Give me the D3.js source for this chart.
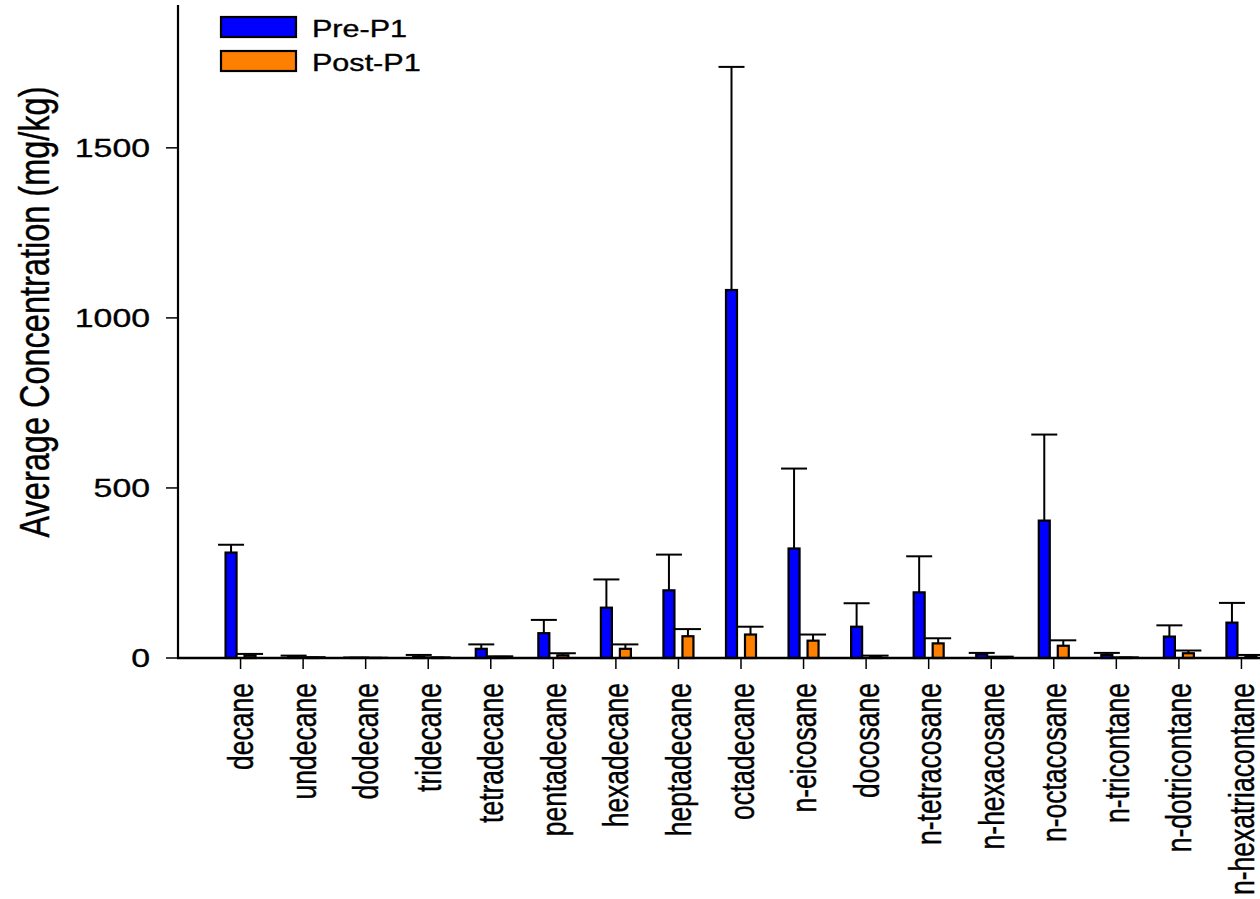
<!DOCTYPE html>
<html>
<head>
<meta charset="utf-8">
<script src="https://cdn.jsdelivr.net/npm/d3@7"></script>
<style>
  html, body { margin: 0; padding: 0; background: #fff; overflow: hidden; }
  svg { display: block; }
  text { font-family: "Liberation Sans", Arial, Helvetica, sans-serif; fill: #000; stroke: #000; stroke-width: 0.35px; }
</style>
</head>
<body>
<script>
// ---- Data ----
const categories = ["decane", "undecane", "dodecane", "tridecane", "tetradecane", "pentadecane",
  "hexadecane", "heptadecane", "octadecane", "n-eicosane", "docosane", "n-tetracosane",
  "n-hexacosane", "n-octacosane", "n-tricontane", "n-dotricontane", "n-hexatriacontane"];
const seriesNames = ["Pre-P1", "Post-P1"];
const preValues  = [310, 4, 0.5, 3, 27, 73, 148, 199, 1082, 322, 92, 193, 11, 404, 9, 63, 104];
const preErrors  = [23, 3, 1, 6, 13, 39, 83, 105, 656, 235, 69, 106, 4, 253, 6, 33, 58];
const postValues = [7, 1, 0.3, 1, 3, 8, 27, 64, 69, 51, 3, 43, 2, 36, 1, 14, 5];
const postErrors = [5, 1.5, 0.5, 1, 2, 6, 13, 21, 23, 18, 4, 15, 2, 16, 1, 8, 4];
const yTicks = [0, 500, 1000, 1500];
const yTitle = "Average Concentration (mg/kg)";
const colors = ["#0000ff", "#ff8000"];

// ---- Layout ----
const W = 1260, H = 899;
const plotLeft = 178, plotRight = 1304, plotTop = 5, plotBase = 658;
const sx = 1.3;   // horizontal text stretch seen in the reference
const sxLab = 1.35;

const svg = d3.select("body").append("svg").attr("width", W).attr("height", H);

const x0 = d3.scalePoint().domain(categories).range([plotLeft, plotRight]).padding(1);
const x1 = d3.scaleBand().domain(seriesNames).range([-16, 16]).paddingInner(6 / 19).paddingOuter(0);
const y = d3.scaleLinear().domain([0, 1920]).range([plotBase, plotTop]);

const rows = categories.map((c, i) => ({
  cat: c,
  vals: [
    { key: seriesNames[0], v: preValues[i], e: preErrors[i], color: colors[0] },
    { key: seriesNames[1], v: postValues[i], e: postErrors[i], color: colors[1] }
  ]
}));

// bars
const g = svg.append("g");
const groups = g.selectAll("g.grp").data(rows).enter().append("g")
  .attr("transform", d => `translate(${x0(d.cat)},0)`);

const bw = x1.bandwidth();
groups.selectAll("line.err").data(d => d.vals).enter().append("line")
  .attr("x1", d => x1(d.key) + bw / 2).attr("x2", d => x1(d.key) + bw / 2)
  .attr("y1", d => y(d.v)).attr("y2", d => y(d.v + d.e))
  .attr("stroke", "#000").attr("stroke-width", 2);
groups.selectAll("line.cap").data(d => d.vals).enter().append("line")
  .attr("x1", d => x1(d.key) + bw / 2 - 13).attr("x2", d => x1(d.key) + bw / 2 + 13)
  .attr("y1", d => y(d.v + d.e)).attr("y2", d => y(d.v + d.e))
  .attr("stroke", "#000").attr("stroke-width", 2);
groups.selectAll("rect").data(d => d.vals).enter().append("rect")
  .attr("x", d => x1(d.key) + 1)
  .attr("width", bw - 2)
  .attr("y", d => y(d.v))
  .attr("height", d => plotBase - y(d.v))
  .attr("fill", d => d.color)
  .attr("stroke", "#000").attr("stroke-width", 2.2);

// y axis
const yAxis = svg.append("g");
yAxis.append("line").attr("x1", plotLeft).attr("x2", plotLeft).attr("y1", plotTop).attr("y2", plotBase + 1)
  .attr("stroke", "#000").attr("stroke-width", 2.2);
yTicks.forEach(t => {
  yAxis.append("line").attr("x1", plotLeft - 12).attr("x2", plotLeft).attr("y1", y(t)).attr("y2", y(t))
    .attr("stroke", "#000").attr("stroke-width", 1.5);
  yAxis.append("text")
    .attr("transform", `translate(150,${y(t)}) scale(${sx},1)`)
    .attr("text-anchor", "end").attr("dy", "0.35em")
    .attr("font-size", 26).text(d3.format("d")(t));
});
svg.append("text")
  .attr("transform", `translate(49,312) scale(${sx},1) rotate(-90)`)
  .attr("text-anchor", "middle").attr("font-size", 32.5).text(yTitle);

// x axis
const xAxis = svg.append("g");
xAxis.append("line").attr("x1", plotLeft - 1).attr("x2", plotRight).attr("y1", plotBase).attr("y2", plotBase)
  .attr("stroke", "#000").attr("stroke-width", 2.5);
categories.forEach(c => {
  xAxis.append("line").attr("x1", x0(c)).attr("x2", x0(c)).attr("y1", plotBase).attr("y2", plotBase + 11)
    .attr("stroke", "#000").attr("stroke-width", 1.5);
  xAxis.append("text")
    .attr("transform", `translate(${x0(c)},683) scale(${sxLab},1) rotate(-90)`)
    .attr("text-anchor", "end").attr("dy", "0.35em")
    .attr("font-size", 26.5).text(c);
});

// legend
const leg = svg.append("g");
seriesNames.forEach((s, i) => {
  leg.append("rect").attr("x", 221).attr("y", 17 + i * 34).attr("width", 75).attr("height", 20)
    .attr("fill", colors[i]).attr("stroke", "#000").attr("stroke-width", 2.2);
  leg.append("text").attr("transform", `translate(312,${37 + i * 34}) scale(${sx},1)`)
    .attr("font-size", 23.5).text(s);
});
</script>
</body>
</html>
